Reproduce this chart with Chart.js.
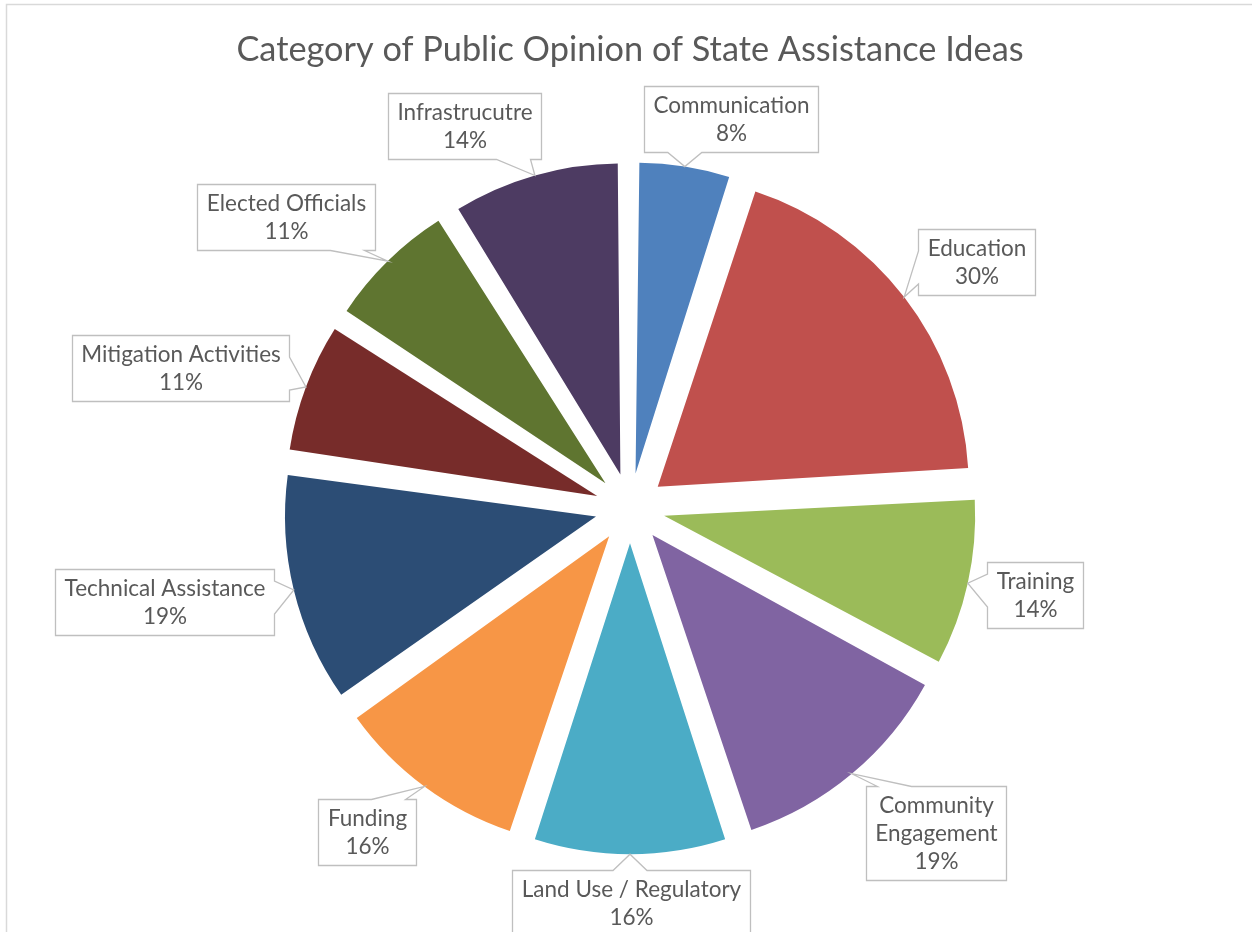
<!DOCTYPE html>
<html>
<head>
<meta charset="utf-8">
<title>Category of Public Opinion of State Assistance Ideas</title>
<script src="https://cdn.jsdelivr.net/npm/chart.js@4/dist/chart.umd.min.js"></script>
<style>
  html, body { margin: 0; padding: 0; background: #fff; }
  #wrap { position: relative; width: 1252px; height: 932px; }
</style>
</head>
<body>
<div id="wrap"><canvas id="opinion-chart"></canvas></div>
<script>
// Slices, clockwise from 12 o'clock
const categories = [
    "Communication",
    "Education",
    "Training",
    ["Community", "Engagement"],
    "Land Use / Regulatory",
    "Funding",
    "Technical Assistance",
    "Mitigation Activities",
    "Elected Officials",
    "Infrastrucutre"
];

// Percent of responses shown on each callout (slice size follows it)
const shares = [8, 30, 14, 19, 16, 16, 19, 11, 11, 14];

const sliceColors = [
    "#4F81BD", "#C0504D", "#9BBB59", "#8064A2", "#4BACC6",
    "#F79646", "#2C4D75", "#772C2A", "#5F7530", "#4D3B62"
];

// Callout boxes pushed away from their default spot, [dx, dy] in px
const calloutNudge = [
    [39, -3], [20, 5], [8, -1], [37, 3], [1, 4],
    [-26, 3], [-8, -17], [-26, 18], [-61, -3], [-58, -5]
];

const TEXT_COLOR = "#595959";
const LABEL_FONT = "22.5px Lato";
const LINE_H = 28;
const PAD_X = 9;
const PAD_Y = 5;
const GAP = 12;

// chart.js grows thin exploded slices a little; keep every slice the same radius
const evenRadiusPlugin = {
    id: "evenRadius",
    beforeDatasetsDraw(chart) {
        const meta = chart.getDatasetMeta(0);
        const baseR = meta.controller.outerRadius;
        meta.data.forEach(arc => {
            const shift = (arc.options.offset || 0) / 4;
            const fix = 1 - Math.sin(Math.min(Math.PI, arc.circumference));
            arc.outerRadius = baseR - shift * fix;
        });
    }
};

// Callouts with a pointer that reaches the slice edge
const calloutPlugin = {
    id: "callouts",
    afterDatasetsDraw(chart) {
        const ctx = chart.ctx;
        const meta = chart.getDatasetMeta(0);
        const baseR = meta.controller.outerRadius;
        ctx.save();
        ctx.font = LABEL_FONT;
        meta.data.forEach((arc, i) => {
            const p = arc.getProps(["x", "y", "startAngle", "endAngle"], true);
            const mid = (p.startAngle + p.endAngle) / 2;
            const shift = (arc.options.offset || 0) / 4;
            const ux = Math.cos(mid), uy = Math.sin(mid);
            const tx = p.x + ux * (shift + baseR);
            const ty = p.y + uy * (shift + baseR);

            const lines = [].concat(categories[i], shares[i] + "%");
            const w = Math.max(...lines.map(s => ctx.measureText(s).width)) + 2 * PAD_X;
            const h = lines.length * LINE_H + 2 * PAD_Y;
            const t = Math.min(Math.abs(ux) > 1e-6 ? w / 2 / Math.abs(ux) : 1e9,
                               Math.abs(uy) > 1e-6 ? h / 2 / Math.abs(uy) : 1e9);
            const cx = tx + ux * (t + GAP) + calloutNudge[i][0];
            const cy = ty + uy * (t + GAP) + calloutNudge[i][1];
            const x0 = Math.round(cx - w / 2) + 0.5, x1 = Math.round(cx + w / 2) + 0.5;
            const y0 = Math.round(cy - h / 2) + 0.5, y1 = Math.round(cy + h / 2) + 0.5;

            // which side the pointer leaves from
            const nx = (tx - cx) / w, ny = (ty - cy) / h;
            let side;
            if (Math.abs(ny) >= Math.abs(nx)) side = ny < 0 ? "top" : "bottom";
            else side = nx < 0 ? "left" : "right";

            const clampBase = (v, a, b) => {
                const m = Math.min(28, (b - a) / 2);
                return Math.min(Math.max(v, a + m), b - m);
            };
            const hwFor = len => Math.min(17, len / 4);

            ctx.beginPath();
            ctx.moveTo(x0, y0);
            if (side === "top") {
                const c = clampBase(tx, x0, x1), hw = hwFor(x1 - x0);
                ctx.lineTo(c - hw, y0); ctx.lineTo(tx, ty); ctx.lineTo(c + hw, y0);
            }
            ctx.lineTo(x1, y0);
            if (side === "right") {
                const c = clampBase(ty, y0, y1), hw = hwFor(y1 - y0);
                ctx.lineTo(x1, c - hw); ctx.lineTo(tx, ty); ctx.lineTo(x1, c + hw);
            }
            ctx.lineTo(x1, y1);
            if (side === "bottom") {
                const c = clampBase(tx, x0, x1), hw = hwFor(x1 - x0);
                ctx.lineTo(c + hw, y1); ctx.lineTo(tx, ty); ctx.lineTo(c - hw, y1);
            }
            ctx.lineTo(x0, y1);
            if (side === "left") {
                const c = clampBase(ty, y0, y1), hw = hwFor(y1 - y0);
                ctx.lineTo(x0, c + hw); ctx.lineTo(tx, ty); ctx.lineTo(x0, c - hw);
            }
            ctx.closePath();
            ctx.fillStyle = "#ffffff";
            ctx.fill();
            ctx.lineWidth = 1.3;
            ctx.strokeStyle = "#BFBFBF";
            ctx.stroke();

            ctx.fillStyle = TEXT_COLOR;
            ctx.textAlign = "center";
            ctx.textBaseline = "middle";
            const top = (y0 + y1) / 2 - (lines.length * LINE_H) / 2;
            lines.forEach((s, k) => ctx.fillText(s, (x0 + x1) / 2, top + LINE_H * (k + 0.5)));
        });
        ctx.restore();
    }
};

// Thin chart-area frame along the top and left
const framePlugin = {
    id: "frame",
    beforeDraw(chart) {
        const ctx = chart.ctx;
        ctx.save();
        ctx.strokeStyle = "#D9D9D9";
        ctx.lineWidth = 1.5;
        ctx.beginPath();
        ctx.moveTo(6.5, chart.height);
        ctx.lineTo(6.5, 4.5);
        ctx.lineTo(chart.width, 4.5);
        ctx.stroke();
        ctx.restore();
    }
};

const ctx = document.getElementById("opinion-chart").getContext("2d");
const opinionChart = new Chart(ctx, {
    type: "pie",
    data: {
        labels: categories,
        datasets: [{
            data: shares,
            backgroundColor: sliceColors,
            borderWidth: 0,
            offset: 140,
            hoverOffset: 0
        }]
    },
    options: {
        responsive: true,
        maintainAspectRatio: false,
        animation: false,
        radius: 311,
        events: [],
        layout: { padding: { left: 8, right: 0, top: 0, bottom: 0 } },
        plugins: {
            legend: { display: false },
            tooltip: { enabled: false },
            title: {
                display: true,
                text: "Category of Public Opinion of State Assistance Ideas",
                color: TEXT_COLOR,
                font: { family: "Lato", size: 34.3, weight: "normal" },
                padding: { top: 29.5, bottom: 13.7 }
            }
        }
    },
    plugins: [framePlugin, evenRadiusPlugin, calloutPlugin]
});
</script>
</body>
</html>
